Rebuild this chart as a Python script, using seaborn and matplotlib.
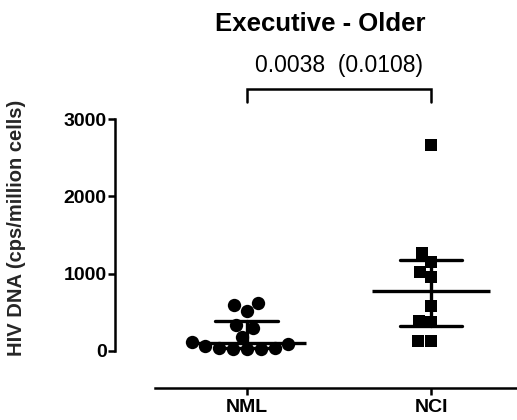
import numpy as np
import pandas as pd
import matplotlib
matplotlib.use("Agg")
import matplotlib.pyplot as plt
import seaborn as sns

# ---- data ----
groups = ["NML", "NCI"]
nml_values = [621, 521, 595, 340, 293, 185, 91, 39, 26, 22, 26, 35, 61, 120]
nci_values = [2668, 1155, 1263, 1025, 953, 586, 392, 379, 133, 133]
y_ticks = [0, 1000, 2000, 3000]
title_text = "Executive - Older"
p_text = "0.0038  (0.0108)"
y_label = "HIV DNA (cps/million cells)"

sns.set_theme(style="ticks")
plt.rcParams["font.family"] = ["Liberation Sans", "DejaVu Sans"]

df = pd.DataFrame({
    "group": ["NML"] * len(nml_values) + ["NCI"] * len(nci_values),
    "value": nml_values + nci_values,
})

W, H = 517, 420
fig = plt.figure(figsize=(W / 100, H / 100), dpi=100)
ax = fig.add_axes([115 / W, 32 / H, 402 / W, 269 / H])

sns.swarmplot(data=df[df.group == "NML"], x="group", y="value", order=groups,
              marker="o", size=9.6, color="black", linewidth=0, ax=ax)
sns.swarmplot(data=df[df.group == "NCI"], x="group", y="value", order=groups,
              marker="s", size=8.6, color="black", linewidth=0, ax=ax)


def iqr(v):
    return tuple(np.percentile(v, [25, 75], method="weibull"))


sns.pointplot(data=df, x="group", y="value", order=groups, estimator=np.median,
              errorbar=iqr, capsize=0.34, color="black", marker="_",
              markersize=85, markeredgewidth=2.4, linestyle="none",
              err_kws={"linewidth": 2.4}, ax=ax)

ax.set_xlim(-0.7146, 1.4666)
ax.set_ylim(-480, 3000)
ax.set_yticks(y_ticks)
ax.set_yticklabels([str(t) for t in y_ticks], fontweight="bold", fontsize=14)
ax.set_xticks(range(len(groups)))
ax.set_xticklabels(groups, fontweight="bold", fontsize=14)
ax.set_xlabel("")
ax.set_ylabel(y_label, fontweight="bold", fontsize=14.5)
ax.yaxis.set_label_coords(-0.222, 0.596)

for s in ["top", "right"]:
    ax.spines[s].set_visible(False)
for s in ["left", "bottom"]:
    ax.spines[s].set_linewidth(1.8)
    ax.spines[s].set_color("black")
ax.spines["left"].set_bounds(0, 3000)
ax.spines["bottom"].set_bounds(-0.4976, 1.4666)
ax.tick_params(axis="y", length=5, width=1.8, pad=1, colors="black")
ax.tick_params(axis="x", length=5, width=1.8, pad=3, colors="black")

# significance bracket
ax.plot([0, 0, 1, 1], [3223, 3383, 3383, 3223], color="black", lw=1.8,
        clip_on=False, solid_joinstyle="miter")
ax.text(0.5, 3696, p_text, ha="center", va="center", fontsize=16.5,
        color="black", clip_on=False)

fig.text(320 / W, 1 - 24 / H, title_text, ha="center", va="center",
         fontsize=18.5, fontweight="bold", color="black")

fig.savefig("out.png", dpi=100)
